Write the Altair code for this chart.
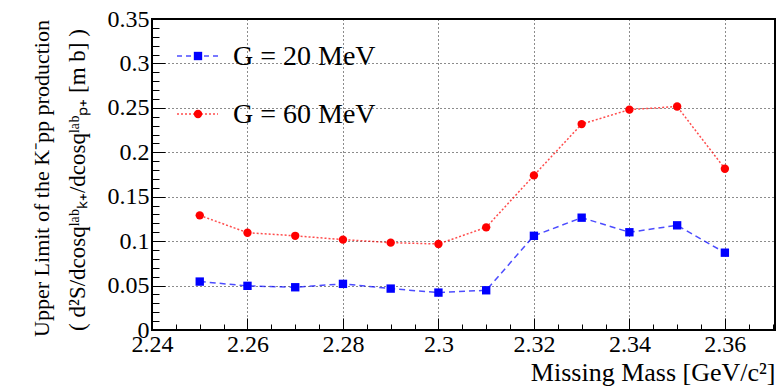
import altair as alt
import pandas as pd

# ---- data ----
mass = [2.25, 2.26, 2.27, 2.28, 2.29, 2.30, 2.31, 2.32, 2.33, 2.34, 2.35, 2.36]
g20 = [0.0545, 0.0497, 0.0481, 0.0519, 0.0466, 0.0421, 0.0447, 0.106, 0.1264, 0.110, 0.1178, 0.087]
g60 = [0.129, 0.1095, 0.106, 0.1017, 0.0983, 0.0968, 0.1155, 0.174, 0.2317, 0.248, 0.2515, 0.1815]
series_names = ["G = 20 MeV", "G = 60 MeV"]

x_major = [2.24, 2.26, 2.28, 2.30, 2.32, 2.34, 2.36]
x_minor = [2.245, 2.25, 2.255, 2.265, 2.27, 2.275, 2.285, 2.29, 2.295, 2.305, 2.31, 2.315,
           2.325, 2.33, 2.335, 2.345, 2.35, 2.355, 2.365, 2.37]
y_major = [0, 0.05, 0.1, 0.15, 0.2, 0.25, 0.3, 0.35]
y_minor = [0.01, 0.02, 0.03, 0.04, 0.06, 0.07, 0.08, 0.09, 0.11, 0.12, 0.13, 0.14,
           0.16, 0.17, 0.18, 0.19, 0.21, 0.22, 0.23, 0.24, 0.26, 0.27, 0.28, 0.29,
           0.31, 0.32, 0.33, 0.34]
x_domain = [2.24, 2.3705]
y_domain = [0, 0.35]

x_title = "Missing Mass [GeV/c²]"
y_title = ["Upper Limit of the K⁻pp production",
           "( d²S/dcosqˡᵃᵇₖ₊/dcosqˡᵃᵇₚ₊ [m b] )"]

df = pd.DataFrame({
    "mass": mass + mass,
    "value": g20 + g60,
    "series": [series_names[0]] * len(mass) + [series_names[1]] * len(mass),
})

FONT = "Liberation Serif"
BLUE = "#0000ff"
RED = "#ff0000"

xs = alt.Scale(domain=x_domain, nice=False, zero=False)
ys = alt.Scale(domain=y_domain, nice=False)

base = alt.Chart(df)

x_major_axis = alt.Axis(values=x_major, format="~g", orient="bottom", grid=True,
                        gridDash=[1, 3], gridColor="black", gridOpacity=0.9, gridWidth=1,
                        tickSize=12, offset=-12, tickColor="black", tickWidth=1,
                        domain=False, labelFont=FONT, labelFontSize=24, labelColor="black",
                        labelPadding=2, labelFlush=False, labelOverlap=False,
                        title=x_title, titleFont=FONT, titleFontSize=26, titleFontWeight="normal",
                        titleColor="black", titleAnchor="end", titleAlign="right",
                        titleX=623, titleY=62, titleBaseline="alphabetic")
y_major_axis = alt.Axis(values=y_major, format="~g", orient="left", grid=True,
                        gridDash=[1, 3], gridColor="black", gridOpacity=0.9, gridWidth=1,
                        tickSize=13, offset=-13, tickColor="black", tickWidth=1,
                        domain=False, labelFont=FONT, labelFontSize=24, labelColor="black",
                        labelPadding=3, labelFlush=False, labelOverlap=False,
                        title=y_title[0], titleFont=FONT, titleFontSize=22, titleFontWeight="normal",
                        titleColor="black", titleAngle=270, titleAlign="center",
                        titleBaseline="alphabetic", titleX=-117, titleY=159)
x_minor_axis = alt.Axis(values=x_minor, orient="bottom", grid=False, labels=False,
                        tickSize=6, offset=-6, tickColor="black", tickWidth=1,
                        domain=False, title=None)
y_minor_axis = alt.Axis(values=y_minor, orient="left", grid=False, labels=False,
                        tickSize=7, offset=-7, tickColor="black", tickWidth=1,
                        domain=False, title=None)

blue = base.transform_filter(alt.datum.series == series_names[0])
red = base.transform_filter(alt.datum.series == series_names[1])

blue_line = blue.mark_line(color=BLUE, strokeWidth=1.5, strokeDash=[6, 4], opacity=0.7).encode(
    x=alt.X("mass:Q", scale=xs, axis=x_major_axis),
    y=alt.Y("value:Q", scale=ys, axis=y_major_axis),
)
red_line = red.mark_line(color=RED, strokeWidth=1.5, strokeDash=[2, 2], opacity=0.7).encode(
    x=alt.X("mass:Q", scale=xs, axis=x_minor_axis),
    y=alt.Y("value:Q", scale=ys, axis=y_minor_axis),
)
blue_pts = blue.mark_point(shape="square", filled=True, size=70, color=BLUE, opacity=1).encode(
    x=alt.X("mass:Q", scale=xs, axis=None),
    y=alt.Y("value:Q", scale=ys, axis=None),
)
red_pts = red.mark_point(shape="circle", filled=True, size=70, color=RED, opacity=1).encode(
    x=alt.X("mass:Q", scale=xs, axis=None),
    y=alt.Y("value:Q", scale=ys, axis=None),
)

# second line of the y title
ytitle2 = alt.Chart(pd.DataFrame({"t": [y_title[1]]})).mark_text(
    font=FONT, fontSize=23, angle=270, align="center", baseline="alphabetic", color="black"
).encode(x=alt.value(-67), y=alt.value(161), text="t:N")

# ---- legend (manual, ROOT style) ----
leg_df0 = pd.DataFrame({"label": [series_names[0]]})
leg_df1 = pd.DataFrame({"label": [series_names[1]]})

leg_blue_line = alt.Chart(leg_df0).mark_rule(color=BLUE, strokeWidth=1.5, strokeDash=[5, 4], opacity=0.7).encode(
    x=alt.value(25), x2=alt.value(66), y=alt.value(37))
leg_blue_pt = alt.Chart(leg_df0).mark_point(shape="square", filled=True, size=70, color=BLUE, opacity=1).encode(
    x=alt.value(46), y=alt.value(37))
leg_blue_txt = alt.Chart(leg_df0).mark_text(font=FONT, fontSize=28, align="left", baseline="middle",
                                            color="black").encode(
    x=alt.value(81), y=alt.value(38), text="label:N")
leg_red_line = alt.Chart(leg_df1).mark_rule(color=RED, strokeWidth=1.5, strokeDash=[2, 2], opacity=0.7).encode(
    x=alt.value(25), x2=alt.value(66), y=alt.value(95))
leg_red_pt = alt.Chart(leg_df1).mark_point(shape="circle", filled=True, size=70, color=RED, opacity=1).encode(
    x=alt.value(46), y=alt.value(95))
leg_red_txt = alt.Chart(leg_df1).mark_text(font=FONT, fontSize=28, align="left", baseline="middle",
                                           color="black").encode(
    x=alt.value(81), y=alt.value(96), text="label:N")

chart = alt.layer(
    blue_line, red_line, blue_pts, red_pts, ytitle2,
    leg_blue_line, leg_blue_pt, leg_blue_txt, leg_red_line, leg_red_pt, leg_red_txt,
).resolve_axis(x="independent", y="independent").properties(
    width=623, height=311,
    padding={"left": 152, "top": 19, "right": 2, "bottom": 56},
    autosize=alt.AutoSizeParams(type="none"),
    background="white",
).configure_view(stroke="black", strokeWidth=2)

chart.save("out.html", embed_options={"renderer": "svg", "actions": False})
